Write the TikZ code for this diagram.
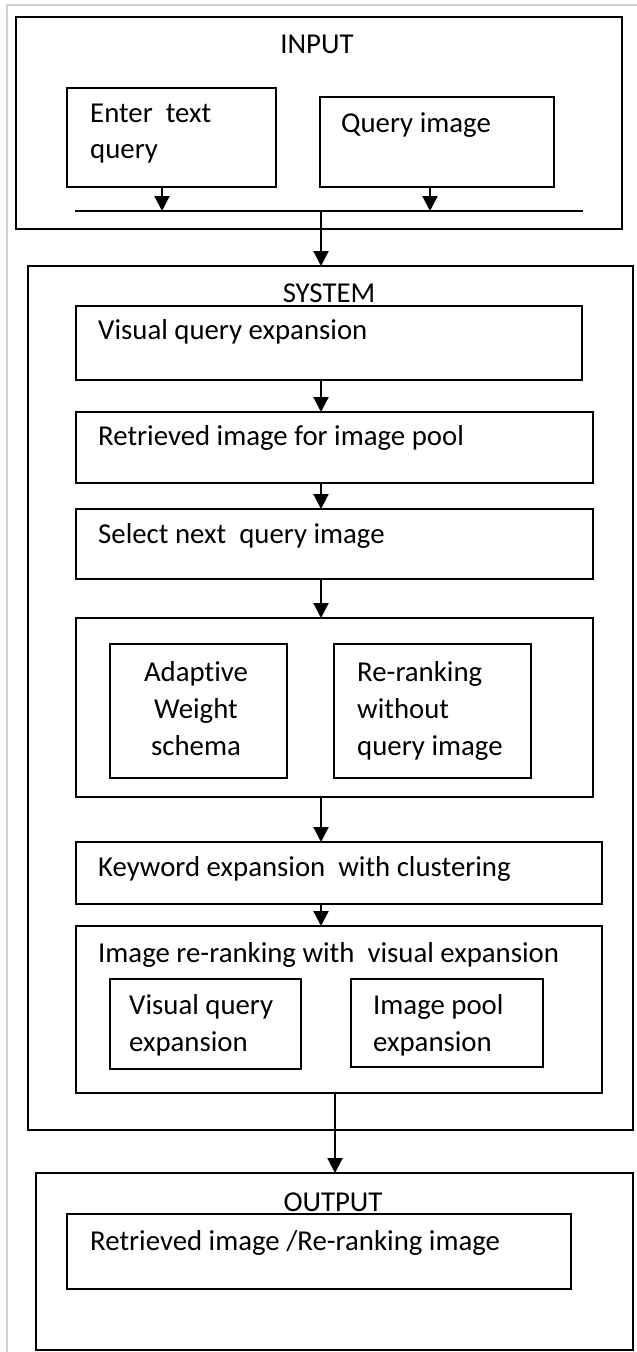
\documentclass[tikz,border=0pt]{standalone}
\usepackage{fontspec}
\setmainfont{Carlito}[RawFeature={-liga}]
\usetikzlibrary{arrows.meta}
\newcommand\mkbox[5]{%
  \node[box, minimum width={(#4-#2)*1pt}, minimum height={(#5-#3)*1pt}]
    (#1) at ({(#2+#4)/2},{(#3+#5)/2}) {};}
\begin{document}
\begin{tikzpicture}[x=1pt,y=-1pt,
  box/.style={draw, rectangle, line width=2.6pt, inner sep=0pt, outer sep=0pt},
  arr/.style={line width=2.2pt, -{Triangle[length=15pt,width=15pt]}},
  txt/.style={inner sep=0pt, anchor=base west, font=\fontsize{28.8}{37}\selectfont},
  ctxt/.style={inner sep=0pt, anchor=base, font=\fontsize{28.8}{37}\selectfont}]
\useasboundingbox (0,0) rectangle (637,1352);
% light frame
\draw[line width=1.5pt, black!18] (7,1352) -- (7,5) -- (637,5);

% INPUT
\mkbox{input}{16}{17}{622}{229}
\node[ctxt] (tin) at (317,53) {INPUT};
\mkbox{enter}{67}{88}{276}{187}
\node[txt] (tenter1) at (90,122) {Enter\ \ text};
\node[txt] (tenter2) at (90,158) {query};
\mkbox{query}{320}{97}{554}{187}
\node[txt] (tquery) at (341,132) {Query image};
\coordinate (busL) at (75,211);
\coordinate (busR) at (583,211);
\draw[line width=2.2pt] (busL) -- (busR);
\coordinate (a1) at (162,211);
\coordinate (a2) at (430,211);
\coordinate (a0) at (321,211);
\draw[arr] (enter.south -| a1) -- (a1);
\draw[arr] (query.south -| a2) -- (a2);

% SYSTEM
\mkbox{system}{28}{266}{633}{1130}
\draw[arr] (a0) -- (a0 |- system.north);
\node[ctxt] (tsys) at (329,302) {SYSTEM};
\mkbox{vqe}{76}{306}{582}{380}
\node[txt] (tvqe) at (98,339) {Visual query expansion};
\mkbox{ret}{76}{412}{593}{483}
\node[txt] (tret) at (98,445) {Retrieved image for image pool};
\mkbox{sel}{76}{509}{593}{579}
\node[txt] (tsel) at (98,543) {Select next\ \ query image};
\mkbox{mid}{76}{618}{593}{797}
\mkbox{adapt}{110}{644}{287}{778}
\node[ctxt] (tad1) at (196,681) {Adaptive};
\node[ctxt] (tad2) at (196,718) {Weight};
\node[ctxt] (tad3) at (196,755) {schema};
\mkbox{rerank}{334}{644}{531}{778}
\node[txt] (trr1) at (357,681) {Re-ranking};
\node[txt] (trr2) at (357,718) {without};
\node[txt] (trr3) at (357,755) {query image};
\mkbox{kw}{76}{842}{602}{904}
\node[txt] (tkw) at (98,876) {Keyword expansion\ \ with clustering};
\mkbox{irr}{76}{926}{602}{1093}
\node[txt] (tirr) at (98,962) {Image re-ranking with\ \ visual expansion};
\mkbox{vq2}{110}{979}{301}{1069}
\node[txt] (tvq1) at (129,1014) {Visual query};
\node[txt] (tvq2) at (129,1051) {expansion};
\mkbox{ipe}{351}{979}{543}{1067}
\node[txt] (tip1) at (373,1014) {Image pool};
\node[txt] (tip2) at (373,1051) {expansion};

\coordinate (c0) at (321,0);
\draw[arr] (vqe.south -| c0) -- (ret.north -| c0);
\draw[arr] (ret.south -| c0) -- (sel.north -| c0);
\draw[arr] (sel.south -| c0) -- (mid.north -| c0);
\draw[arr] (mid.south -| c0) -- (kw.north -| c0);
\draw[arr] (kw.south -| c0) -- (irr.north -| c0);

% OUTPUT
\mkbox{output}{36}{1173}{633}{1350}
\coordinate (d0) at (335,0);
\draw[arr] (irr.south -| d0) -- (output.north -| d0);
\node[ctxt] (tout) at (333,1211) {OUTPUT};
\mkbox{outin}{67}{1214}{571}{1289}
\node[txt] (toutin) at (90,1250) {Retrieved image /Re-ranking image};
\end{tikzpicture}
\end{document}
